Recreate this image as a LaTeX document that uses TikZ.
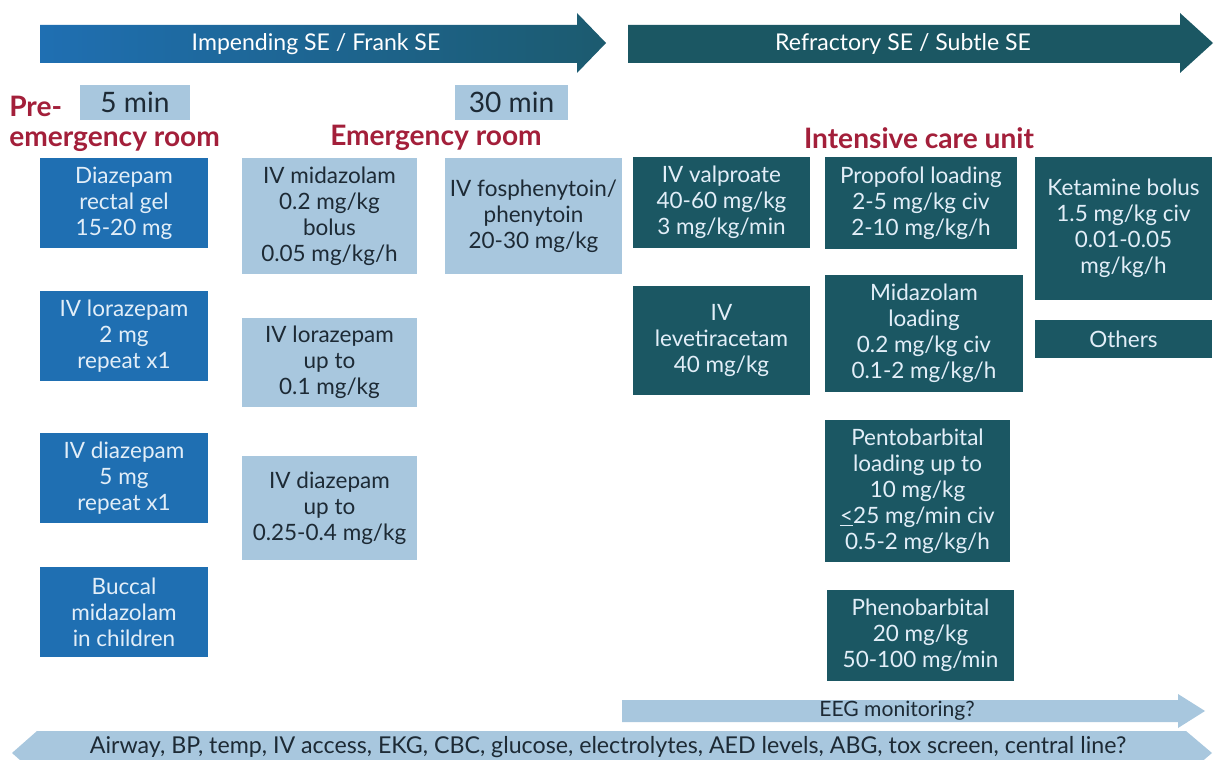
\documentclass[tikz,border=0pt]{standalone}
\usepackage{fontspec}
\setmainfont{Lato}
\usetikzlibrary{positioning}
\definecolor{preblue}{HTML}{1F6FB2}
\definecolor{erlight}{HTML}{A8C7DE}
\definecolor{icuteal}{HTML}{1B5763}
\definecolor{headred}{HTML}{A31F3A}
\definecolor{palefont}{HTML}{E2EEF8}
\definecolor{darkfont}{HTML}{1D2A35}

\begin{document}
\begin{tikzpicture}[x=0.025cm, y=-0.025cm,
        drug/.style={rectangle, minimum width=4.4cm, align=center, inner sep=2pt, font=\fontsize{16}{18.5}\selectfont},
        pre/.style={drug, fill=preblue, text=palefont, minimum width=4.2cm, minimum height=2.25cm},
        er/.style={drug, fill=erlight, text=darkfont},
        icu/.style={drug, fill=icuteal, text=palefont},
        place/.style={text=headred, font=\bfseries\fontsize{20}{21}\selectfont},
        timer/.style={rectangle, fill=erlight, text=darkfont, minimum width=2.75cm, minimum height=0.875cm, font=\fontsize{20}{20}\selectfont},
        banner/.style={text=white, font=\fontsize{16.4}{16}\selectfont},
        band/.style={text=darkfont, font=\fontsize{15}{15}\selectfont}
    ]

    % Page size and white background
    \path[use as bounding box, clip] (0,0) rectangle (1216,760);
    \fill[white] (0,0) rectangle (1216,760);

    % Phase arrows along the top
    \shade[left color=preblue, right color=icuteal!85!preblue] (40,25) -- (577,25) -- (577,13) -- (606,43) -- (577,73) -- (577,63) -- (40,63) -- cycle;
    \fill[icuteal] (628,25) -- (1180,25) -- (1180,13) -- (1213,43) -- (1180,73) -- (1180,63) -- (628,63) -- cycle;
    \node[banner] (frank) at (316,44) {Impending SE / Frank SE};
    \node[banner] (subtle) at (903,44) {Refractory SE / Subtle SE};

    % Time marks
    \node[timer] (fivemin) at (135,102.5) {5 min};
    \node[timer, minimum width=2.825cm] (thirtymin) at (511.5,102.5) {30 min};

    % Settings
    \node[place, align=left, anchor=north west, inner sep=0pt] (prehead) at (9,96) {Pre-\\emergency room};
    \node[place] (erhead) at (436,138) {Emergency room};
    \node[place] (icuhead) at (919,138) {Intensive care unit};

    % Pre-emergency room
    \node[pre] (diazgel) at (124,203) {Diazepam\\rectal gel\\15-20 mg};
    \node[pre] (lorazpre) at (124,336) {IV lorazepam\\2 mg\\repeat x1};
    \node[pre] (diazpre) at (124,478) {IV diazepam\\5 mg\\repeat x1};
    \node[pre] (buccal) at (124,612) {Buccal\\midazolam\\in children};

    % Emergency room
    \node[er, minimum width=4.375cm, minimum height=2.9cm] (midazer) at (329.5,216) {IV midazolam\\0.2 mg/kg\\bolus\\0.05 mg/kg/h};
    \node[er, minimum width=4.375cm, minimum height=2.225cm] (lorazer) at (329.5,362.5) {IV lorazepam\\up to\\0.1 mg/kg};
    \node[er, minimum width=4.375cm, minimum height=2.6cm] (diazer) at (329.5,508) {IV diazepam\\up to\\0.25-0.4 mg/kg};
    \node[er, minimum width=4.425cm, minimum height=2.9cm] (fosphen) at (533.5,216) {IV fosphenytoin/\\phenytoin\\20-30 mg/kg};

    % Intensive care unit
    \node[icu, minimum width=4.425cm, minimum height=2.275cm] (valpro) at (721.5,202.5) {IV valproate\\40-60 mg/kg\\3 mg/kg/min};
    \node[icu, minimum width=4.425cm, minimum height=2.725cm] (levet) at (721.5,340.5) {IV\\levetiracetam\\40 mg/kg};
    \node[icu, minimum width=4.8cm, minimum height=2.3cm] (propofol) at (921,203) {Propofol loading\\2-5 mg/kg civ\\2-10 mg/kg/h};
    \node[icu, minimum width=4.95cm, minimum height=2.925cm] (midaicu) at (924,333.5) {Midazolam\\loading\\0.2 mg/kg civ\\0.1-2 mg/kg/h};
    \node[icu, minimum width=4.625cm, minimum height=3.55cm] (pentobarb) at (917.5,491) {Pentobarbital\\loading up to\\10 mg/kg\\\underline{<}25 mg/min civ\\0.5-2 mg/kg/h};
    \node[icu, minimum width=4.675cm, minimum height=2.275cm] (phenobarb) at (920.5,635.5) {Phenobarbital\\20 mg/kg\\50-100 mg/min};
    \node[icu, minimum width=4.425cm, minimum height=3.575cm] (ketamine) at (1123.5,228.5) {Ketamine bolus\\1.5 mg/kg civ\\0.01-0.05\\mg/kg/h};
    \node[icu, minimum width=4.425cm, minimum height=0.95cm] (others) at (1123.5,339) {Others};

    % Monitoring and work-up bands
    \fill[erlight] (622,700) -- (1178,700) -- (1178,694) -- (1205,711) -- (1178,728) -- (1178,722) -- (622,722) -- cycle;
    \node[band] (eeg) at (897,711) {EEG monitoring?};
    \fill[erlight] (12,753) -- (37,731) -- (1186,731) -- (1212,753) -- (1186,775) -- (37,775) -- cycle;
    \node[band, font=\fontsize{16.5}{16.5}\selectfont, inner sep=0pt] (workup) at (608,747) {Airway, BP, temp, IV access, EKG, CBC, glucose, electrolytes, AED levels, ABG, tox screen, central line?};

\end{tikzpicture}
\end{document}
